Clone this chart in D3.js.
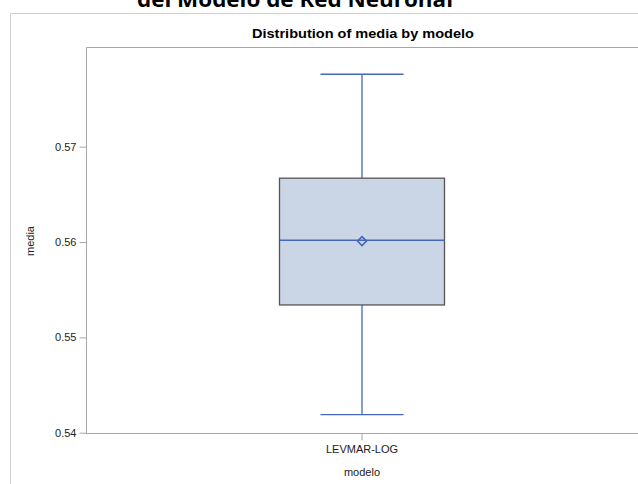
<!DOCTYPE html>
<html><head><meta charset="utf-8">
<script src="https://cdn.jsdelivr.net/npm/d3@7"></script>
<style>body{margin:0;background:#fff}svg{display:block}</style>
</head><body>
<script>
const categories = ["LEVMAR-LOG"];
const whiskerLow = [0.5419];
const q1 = [0.5534];
const median = [0.5602];
const q3 = [0.5667];
const whiskerHigh = [0.5776];
const mean = [0.5601];
const yTicks = [0.54, 0.55, 0.56, 0.57];

(function(){
const W = 638, H = 484;
const svg = d3.select("body").append("svg").attr("width", W).attr("height", H);

// outer frame
svg.append("path").attr("d", "M10.5,484 V13.5 H638").attr("fill","none").attr("stroke","#d0d0d0").attr("stroke-width",1);

// cut-off main title (cut off in the reference too)
svg.append("text").attr("x", 295).attr("y", 7).attr("text-anchor","middle")
  .attr("font-family","'Open Sans', Lato, sans-serif").attr("font-weight","bold").attr("font-size",21)
  .attr("textLength",316).attr("lengthAdjust","spacingAndGlyphs")
  .attr("fill","#000").text("del Modelo de Red Neuronal");

const pl = 86, pr = 638, pt = 47, pb = 433;
const y = d3.scaleLinear().domain([0.54, 0.58046]).range([432.7, pt]);
const x = d3.scaleBand().domain(categories).range([pl, pr]).paddingInner(0).paddingOuter(0);

svg.append("text").attr("x", 363).attr("y", 38).attr("text-anchor","middle")
  .attr("font-family","'Liberation Sans', Arial, sans-serif").attr("font-weight","bold").attr("font-size",13)
  .attr("textLength",222).attr("lengthAdjust","spacingAndGlyphs")
  .attr("fill","#000").text("Distribution of media by modelo");

// frame lines
svg.append("path").attr("d", `M${pl+0.5},${pb} V${pt+0.5} H${W}`).attr("fill","none").attr("stroke","#a6a6a6");
svg.append("line").attr("x1",pl).attr("x2",W).attr("y1",pb+0.5).attr("y2",pb+0.5).attr("stroke","#a6a6a6");

// y axis
const yAxis = svg.append("g").attr("transform",`translate(${pl+0.5},0)`)
  .call(d3.axisLeft(y).tickValues(yTicks).tickFormat(d3.format(".2f")).tickSize(7).tickPadding(3));
yAxis.select(".domain").remove();
yAxis.selectAll(".tick line").attr("stroke","#a6a6a6");
yAxis.selectAll(".tick text").attr("font-family","'Liberation Sans', Arial, sans-serif").attr("font-size",11).attr("fill","#222");

// x axis
const xAxis = svg.append("g").attr("transform",`translate(0,${pb+0.5})`)
  .call(d3.axisBottom(x).tickSize(7).tickPadding(5));
xAxis.select(".domain").remove();
xAxis.selectAll(".tick line").attr("stroke","#a6a6a6");
xAxis.selectAll(".tick text").attr("font-family","'Liberation Sans', Arial, sans-serif").attr("font-size",11).attr("fill","#222");

// axis labels
svg.append("text").attr("x", 362).attr("y", 476).attr("text-anchor","middle")
  .attr("font-family","'Liberation Sans', Arial, sans-serif").attr("font-size",11).attr("fill","#222").text("modelo");
svg.append("text").attr("transform","translate(34,241) rotate(-90)").attr("text-anchor","middle")
  .attr("font-family","'Liberation Sans', Arial, sans-serif").attr("font-size",11).attr("fill","#222").text("media");

// boxes
const blue = "#4468b8";
const g = svg.append("g");
categories.forEach((c, i) => {
  const cx = x(c) + x.bandwidth()/2;
  const bw = 165, cw = 83;
  g.append("line").attr("x1",cx).attr("x2",cx).attr("y1",y(whiskerHigh[i])).attr("y2",y(q3[i])).attr("stroke",blue).attr("stroke-width",1.3);
  g.append("line").attr("x1",cx).attr("x2",cx).attr("y1",y(q1[i])).attr("y2",y(whiskerLow[i])).attr("stroke",blue).attr("stroke-width",1.3);
  g.append("line").attr("x1",cx-cw/2).attr("x2",cx+cw/2).attr("y1",y(whiskerHigh[i])).attr("y2",y(whiskerHigh[i])).attr("stroke",blue).attr("stroke-width",1.3);
  g.append("line").attr("x1",cx-cw/2).attr("x2",cx+cw/2).attr("y1",y(whiskerLow[i])).attr("y2",y(whiskerLow[i])).attr("stroke",blue).attr("stroke-width",1.3);
  g.append("rect").attr("x",cx-bw/2).attr("width",bw).attr("y",y(q3[i])).attr("height",y(q1[i])-y(q3[i]))
    .attr("fill","#cad5e5").attr("stroke","#555").attr("stroke-width",1.3);
  g.append("line").attr("x1",cx-bw/2).attr("x2",cx+bw/2).attr("y1",y(median[i])).attr("y2",y(median[i])).attr("stroke",blue).attr("stroke-width",1.5);
  const my = y(mean[i]), r = 4.5;
  g.append("path").attr("d",`M${cx},${my-r} L${cx+r},${my} L${cx},${my+r} L${cx-r},${my} Z`)
    .attr("fill","none").attr("stroke",blue).attr("stroke-width",1.6);
});
})();
</script>
</body></html>
